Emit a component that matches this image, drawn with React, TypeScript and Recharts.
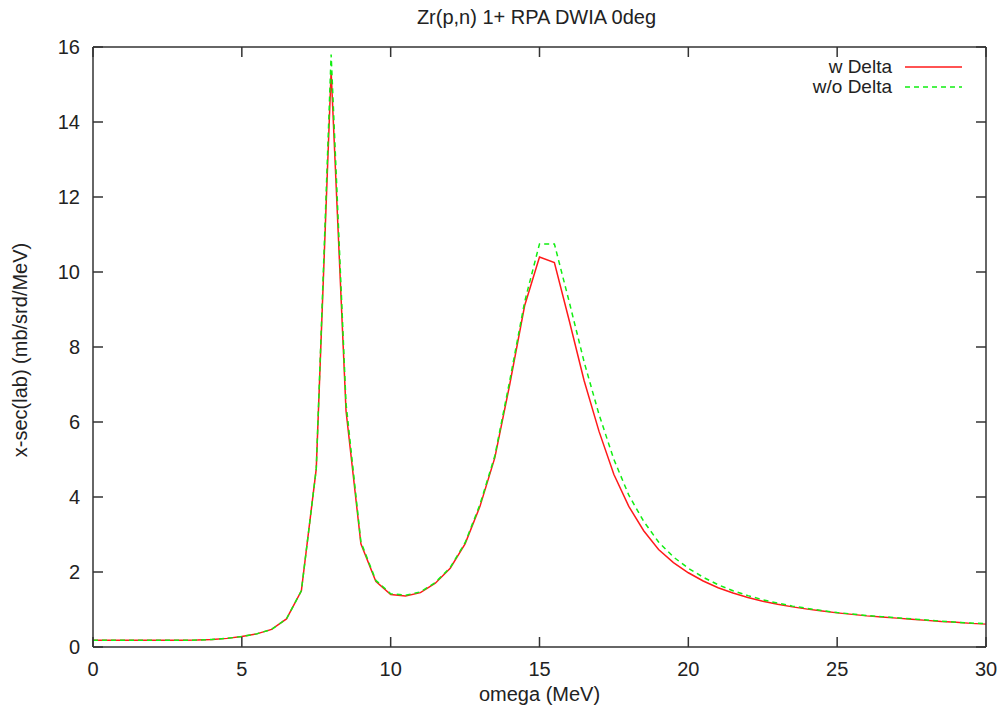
import { Line, LineChart, XAxis, YAxis } from 'recharts'

const TITLE = 'Zr(p,n) 1+ RPA DWIA 0deg'
const X_LABEL = 'omega (MeV)'
const Y_LABEL = 'x-sec(lab) (mb/srd/MeV)'
const X_TICKS = [0, 5, 10, 15, 20, 25, 30]
const Y_TICKS = [0, 2, 4, 6, 8, 10, 12, 14, 16]

// omega (MeV), 0.5 MeV steps
const OMEGA = [
  0, 0.5, 1, 1.5, 2, 2.5, 3, 3.5, 4, 4.5, 5, 5.5, 6, 6.5, 7, 7.5, 8, 8.5, 9, 9.5,
  10, 10.5, 11, 11.5, 12, 12.5, 13, 13.5, 14, 14.5, 15, 15.5, 16, 16.5, 17, 17.5, 18, 18.5, 19, 19.5,
  20, 20.5, 21, 21.5, 22, 22.5, 23, 23.5, 24, 24.5, 25, 25.5, 26, 26.5, 27, 27.5, 28, 28.5, 29, 29.5, 30,
]

const W_DELTA = [
  0.18, 0.18, 0.18, 0.18, 0.18, 0.18, 0.18, 0.185, 0.2, 0.23, 0.28, 0.35, 0.47, 0.75, 1.5, 4.75, 15.35, 6.3, 2.75, 1.75,
  1.4, 1.36, 1.45, 1.7, 2.1, 2.75, 3.75, 5.05, 7.0, 9.1, 10.4, 10.25, 8.7, 7.1, 5.75, 4.6, 3.75, 3.1, 2.6, 2.25,
  1.98, 1.76, 1.58, 1.44, 1.32, 1.22, 1.14, 1.07, 1.01, 0.96, 0.91, 0.87, 0.83, 0.8, 0.77, 0.74, 0.71, 0.68, 0.66, 0.63, 0.61,
]

const WO_DELTA = [
  0.18, 0.18, 0.18, 0.18, 0.18, 0.18, 0.18, 0.185, 0.2, 0.23, 0.28, 0.35, 0.47, 0.75, 1.5, 4.75, 15.8, 6.5, 2.8, 1.78,
  1.42, 1.38, 1.47, 1.72, 2.12, 2.78, 3.8, 5.1, 7.1, 9.2, 10.75, 10.75, 9.2, 7.6, 6.2, 5.0, 4.05, 3.35, 2.8, 2.4,
  2.1, 1.86, 1.66, 1.5, 1.37, 1.26, 1.17, 1.09, 1.03, 0.97, 0.92, 0.88, 0.84, 0.81, 0.78, 0.75, 0.72, 0.69, 0.66, 0.64, 0.62,
]

const data = OMEGA.map((omega, i) => ({ omega, w: W_DELTA[i], wo: WO_DELTA[i] }))

const FONT = '"Liberation Sans", Arial, sans-serif'
const INK = '#222'
const AXIS = '#333'
const RED = '#ff1a1a'
const GREEN = '#11ee11'
const TICK_LEN = 10

// gnuplot style: ticks point into the plot, labels outside
function BottomTick({ x, y, payload }: any) {
  return (
    <g>
      <line x1={x} y1={y} x2={x} y2={y - TICK_LEN} stroke={AXIS} strokeWidth={1.5} />
      <text x={x} y={y + 29} textAnchor="middle" fontSize={20} fill={INK} fontFamily={FONT}>
        {payload.value}
      </text>
    </g>
  )
}

function TopTick({ x, y }: any) {
  return <line x1={x} y1={y} x2={x} y2={y + TICK_LEN} stroke={AXIS} strokeWidth={1.5} />
}

function LeftTick({ x, y, payload }: any) {
  return (
    <g>
      <line x1={x} y1={y} x2={x + TICK_LEN} y2={y} stroke={AXIS} strokeWidth={1.5} />
      <text x={x - 13} y={y + 7} textAnchor="end" fontSize={20} fill={INK} fontFamily={FONT}>
        {payload.value}
      </text>
    </g>
  )
}

function RightTick({ x, y }: any) {
  return <line x1={x} y1={y} x2={x - TICK_LEN} y2={y} stroke={AXIS} strokeWidth={1.5} />
}

const titleLabel = ({ viewBox }: any) => (
  <text x={viewBox.x + viewBox.width / 2 - 3} y={24} textAnchor="middle" fontSize={20} fill={INK} fontFamily={FONT}>
    {TITLE}
  </text>
)

const xLabel = ({ viewBox }: any) => (
  <text x={viewBox.x + viewBox.width / 2} y={viewBox.y + 54} textAnchor="middle" fontSize={20} fill={INK} fontFamily={FONT}>
    {X_LABEL}
  </text>
)

const yLabel = ({ viewBox }: any) => {
  const cx = viewBox.x + 27
  const cy = viewBox.y + viewBox.height / 2 + 3
  return (
    <text x={cx} y={cy} transform={`rotate(-90 ${cx} ${cy})`} textAnchor="middle" fontSize={20} fill={INK} fontFamily={FONT}>
      {Y_LABEL}
    </text>
  )
}

function Key() {
  const rows = [
    { label: 'w Delta', color: RED, dash: undefined, y: 67 },
    { label: 'w/o Delta', color: GREEN, dash: '5 4', y: 87 },
  ]
  return (
    <svg width={1005} height={716} style={{ position: 'absolute', left: 0, top: 0, pointerEvents: 'none' }}>
      {rows.map((r) => (
        <g key={r.label}>
          <text x={892} y={r.y + 6} textAnchor="end" fontSize={19} fill={INK} fontFamily={FONT}>
            {r.label}
          </text>
          <line x1={905} y1={r.y} x2={962} y2={r.y} stroke={r.color} strokeWidth={1.5} strokeDasharray={r.dash} />
        </g>
      ))}
    </svg>
  )
}

export default function App() {
  return (
    <div style={{ position: 'absolute', left: 0, top: 0, width: 1005, height: 716, background: '#fff' }}>
      <LineChart width={1005} height={716} data={data} margin={{ top: 0, right: 0, bottom: 0, left: 0 }}>
        <XAxis
          xAxisId="bottom"
          dataKey="omega"
          type="number"
          domain={[0, 30]}
          ticks={X_TICKS}
          height={69}
          tickSize={0}
          tickMargin={0}
          tickLine={false}
          tick={<BottomTick />}
          axisLine={{ stroke: AXIS, strokeWidth: 1.5 }}
          label={{ content: xLabel }}
        />
        <XAxis
          xAxisId="top"
          orientation="top"
          dataKey="omega"
          type="number"
          domain={[0, 30]}
          ticks={X_TICKS}
          height={47}
          tickSize={0}
          tickMargin={0}
          tickLine={false}
          tick={<TopTick />}
          axisLine={{ stroke: AXIS, strokeWidth: 1.5 }}
          label={{ content: titleLabel }}
        />
        <YAxis
          yAxisId="left"
          type="number"
          domain={[0, 16]}
          ticks={Y_TICKS}
          width={93}
          tickSize={0}
          tickMargin={0}
          tickLine={false}
          tick={<LeftTick />}
          axisLine={{ stroke: AXIS, strokeWidth: 1.5 }}
          label={{ content: yLabel }}
        />
        <YAxis
          yAxisId="right"
          orientation="right"
          type="number"
          domain={[0, 16]}
          ticks={Y_TICKS}
          width={19}
          tickSize={0}
          tickMargin={0}
          tickLine={false}
          tick={<RightTick />}
          axisLine={{ stroke: AXIS, strokeWidth: 1.5 }}
        />
        <Line
          xAxisId="bottom"
          yAxisId="left"
          type="linear"
          dataKey="w"
          name="w Delta"
          stroke={RED}
          strokeWidth={1.5}
          dot={false}
          isAnimationActive={false}
        />
        <Line
          xAxisId="top"
          yAxisId="right"
          type="linear"
          dataKey="wo"
          name="w/o Delta"
          stroke={GREEN}
          strokeWidth={1.5}
          strokeDasharray="5 4"
          dot={false}
          isAnimationActive={false}
        />
      </LineChart>
      <Key />
    </div>
  )
}
